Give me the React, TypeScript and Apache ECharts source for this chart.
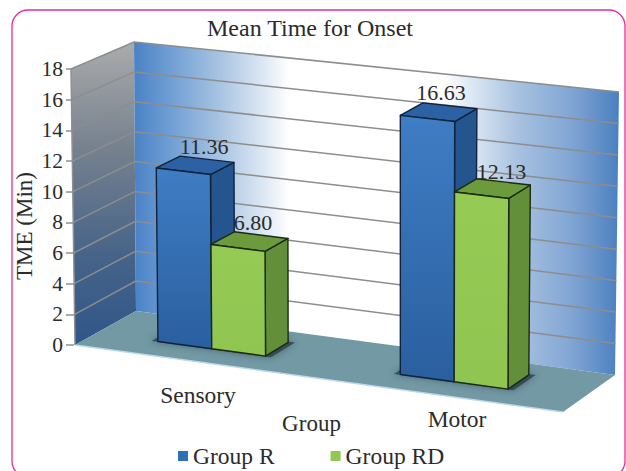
import React, { useEffect, useRef } from "react";
import * as echarts from "echarts";

const titleText = "Mean Time for Onset";
const categories = ["Sensory", "Motor"];
const groupNames = ["Group R", "Group RD"];
const groupR = [11.36, 16.63];
const groupRD = [6.8, 12.13];
const yMin = 0;
const yMax = 18;
const yStep = 2;
const yTicks = [0, 2, 4, 6, 8, 10, 12, 14, 16, 18];
const valueLabels = [
  ["11.36", "16.63"],
  ["6.80", "12.13"],
];

const FONT = "'Liberation Serif', serif";
const INK = "#2b2b2b";

// Corners of the floor, in order: front left, front right, back left, back right
const FX = [75, 563, 136, 615];
const FY = [345, 412, 311, 375];
const HS = [1, 1.034, 0.9746, 1.0254]; // vertical scale at the corners
const SL = [-0.0144, 0.0029, -0.0072, 0.0144]; // lean of the verticals at the corners

const GRID = { left: 74, top: 69, width: 489, height: 276 };

const bil = (c: number[], u: number, d: number) =>
  (1 - d) * ((1 - u) * c[0] + u * c[1]) + d * ((1 - u) * c[2] + u * c[3]);

// u across the floor, d into the depth, h = height in axis pixels above the baseline
const project = (u: number, d: number, h: number): [number, number] => {
  const hh = h * bil(HS, u, d);
  return [bil(FX, u, d) + h * bil(SL, u, d), bil(FY, u, d) - hh];
};

const toU = (px: number) => (px - GRID.left) / GRID.width;

const BAR_W = 0.111;
const GROUP_SHIFT = -0.012;
const D0 = 0.35;
const D1 = 0.74;
const LABEL_NUDGE = [
  [[-3, -21], [-9, -21]],
  [[-8, -21], [-2, -18]],
];
const CAT_POS = [
  [198, 395],
  [457, 419],
];

const FACE = [
  {
    front: ["#3f7dc4", "#2a5f9f"],
    side: "#24558f",
    top: "#2c62a3",
    stroke: "#10233c",
  },
  {
    front: ["#95cb55", "#8fc550"],
    side: "#648f3a",
    top: "#6c9b3d",
    stroke: "#1b2a12",
  },
];

const wallsItem = (_p: any, api: any) => {
  const base = api.coord([0, 0])[1];
  const topH = base - api.coord([0, yMax])[1];
  const tick = api.value(1);
  const h = base - api.coord([0, tick])[1];
  const children: any[] = [];
  if (api.value(0) === 0) {
    children.push({
      type: "polygon",
      shape: { points: [project(0, 0, 0), project(0, 1, 0), project(0, 1, topH), project(0, 0, topH)] },
      style: {
        fill: new echarts.graphic.LinearGradient(0, 0, 0, 1, [
          { offset: 0, color: "#ababab" },
          { offset: 0.35, color: "#76818f" },
          { offset: 0.7, color: "#476488" },
          { offset: 1, color: "#2f5689" },
        ]),
      },
    });
    children.push({
      type: "polygon",
      shape: { points: [project(0, 1, 0), project(1, 1, 0), project(1, 1, topH), project(0, 1, topH)] },
      style: {
        fill: new echarts.graphic.LinearGradient(0, 0, 1, 0, [
          { offset: 0, color: "#4a82c6" },
          { offset: 0.074, color: "#6f9ed3" },
          { offset: 0.177, color: "#a8c4e2" },
          { offset: 0.28, color: "#e4edf7" },
          { offset: 0.32, color: "#ffffff" },
          { offset: 0.64, color: "#ffffff" },
          { offset: 0.69, color: "#e0eaf5" },
          { offset: 0.79, color: "#a8c2e0" },
          { offset: 0.9, color: "#82a6d4" },
          { offset: 1, color: "#4a80c0" },
        ]),
      },
    });
    children.push({
      type: "polygon",
      shape: { points: [project(0, 0, 0), project(1, 0, 0), project(1, 1, 0), project(0, 1, 0)] },
      style: { fill: "#7299a4" },
    });
    children.push({
      type: "line",
      shape: { x1: project(0, 0, 0)[0], y1: project(0, 0, 0)[1], x2: project(1, 0, 0)[0], y2: project(1, 0, 0)[1] },
      style: { stroke: "#bcd6ec", lineWidth: 1.5 },
    });
    children.push({
      type: "line",
      shape: { x1: project(0, 0, 0)[0], y1: project(0, 0, 0)[1], x2: project(0, 0, topH)[0], y2: project(0, 0, topH)[1] },
      style: { stroke: "#8f8f8f", lineWidth: 1.5 },
    });
  }
  if (tick > 0) {
    const a = project(0, 0, h);
    const b = project(0, 1, h);
    const c = project(1, 1, h);
    children.push({
      type: "polyline",
      shape: { points: [a, b, c] },
      style: { stroke: "#8d8d8d", lineWidth: 1.5, fill: "none" },
    });
  }
  return { type: "group", children };
};

const shadowItem = (_p: any, api: any) => {
  const c = api.coord([api.value(0), 0]);
  const u = toU(c[0]) + GROUP_SHIFT;
  return {
    type: "polygon",
    shape: {
      points: [
        project(u - BAR_W - 0.012, D0 - 0.01, 0),
        project(u + BAR_W + 0.012, D0 - 0.01, 0),
        project(u + BAR_W + 0.012, D1 + 0.02, 0),
        project(u - BAR_W - 0.012, D1 + 0.02, 0),
      ],
    },
    style: { fill: "rgba(40,60,70,0.75)", shadowBlur: 7, shadowColor: "rgba(40,60,70,0.8)" },
  };
};

const barItem = (si: number) => (_p: any, api: any) => {
  const cat = api.value(0);
  const c = api.coord([cat, api.value(1)]);
  const base = api.coord([cat, 0])[1];
  const h = base - c[1];
  const mid = toU(c[0]) + GROUP_SHIFT;
  const u0 = si === 0 ? mid - BAR_W : mid;
  const u1 = si === 0 ? mid : mid + BAR_W;
  const s = FACE[si];
  const stroke = { stroke: s.stroke, lineWidth: 1.4, lineJoin: "round" };
  const topCenter = project((u0 + u1) / 2, D1, h);
  const nudge = LABEL_NUDGE[si][cat];
  return {
    type: "group",
    children: [
      {
        type: "polygon",
        shape: { points: [project(u1, D0, 0), project(u1, D1, 0), project(u1, D1, h), project(u1, D0, h)] },
        style: { fill: s.side, ...stroke },
      },
      {
        type: "polygon",
        shape: { points: [project(u0, D0, h), project(u1, D0, h), project(u1, D1, h), project(u0, D1, h)] },
        style: { fill: s.top, ...stroke },
      },
      {
        type: "polygon",
        shape: { points: [project(u0, D0, 0), project(u1, D0, 0), project(u1, D0, h), project(u0, D0, h)] },
        style: {
          fill: new echarts.graphic.LinearGradient(0, 0, 0, 1, [
            { offset: 0, color: s.front[0] },
            { offset: 1, color: s.front[1] },
          ]),
          ...stroke,
        },
      },
      {
        type: "text",
        x: topCenter[0] + nudge[0],
        y: topCenter[1] + nudge[1] + 8,
        style: {
          text: valueLabels[si][cat],
          font: `22px ${FONT}`,
          fill: INK,
          align: "center",
          verticalAlign: "middle",
        },
      },
    ],
  };
};

const catLabelItem = (_p: any, api: any) => {
  const i = api.value(0);
  return {
    type: "text",
    x: CAT_POS[i][0],
    y: CAT_POS[i][1],
    style: {
      text: categories[i],
      font: `23.5px ${FONT}`,
      fill: INK,
      align: "center",
      verticalAlign: "middle",
    },
  };
};

export default function App() {
  const ref = useRef<HTMLDivElement>(null);
  useEffect(() => {
    document.body.style.margin = "0";
    const chart = echarts.init(ref.current!, undefined, { renderer: "svg" });
    chart.setOption({
      animation: false,
      backgroundColor: "#ffffff",
      title: {
        text: titleText,
        left: 202,
        top: 11,
        textStyle: { fontFamily: FONT, fontWeight: "normal", fontSize: 24, color: INK },
      },
      legend: {
        data: groupNames,
        left: 173,
        top: 439,
        itemWidth: 10,
        itemHeight: 10,
        itemGap: 56,
        icon: "rect",
        textStyle: { fontFamily: FONT, fontSize: 23.5, color: INK },
      },
      grid: GRID,
      xAxis: {
        type: "category",
        data: categories,
        name: "Group",
        nameLocation: "middle",
        nameGap: 67,
        nameTextStyle: { fontFamily: FONT, fontSize: 23, color: INK, padding: [0, 14, 0, 0] },
        axisLine: { show: false },
        axisTick: { show: false },
        axisLabel: { show: false },
      },
      yAxis: {
        type: "value",
        min: yMin,
        max: yMax,
        interval: yStep,
        name: "TME (Min)",
        nameLocation: "middle",
        nameGap: 38,
        nameMoveOverlap: false,
        nameTextStyle: { fontFamily: FONT, fontSize: 23, color: INK, padding: [0, 38, 0, 0] },
        axisLine: { show: false },
        axisTick: { show: true, length: 8, lineStyle: { color: "#8f8f8f", width: 1.5 } },
        axisLabel: { fontFamily: FONT, fontSize: 21.5, color: INK, margin: 11 },
        splitLine: { show: false },
      },
      graphic: [
        {
          type: "rect",
          silent: true,
          z: -1,
          shape: { x: 12, y: 10, width: 613, height: 467, r: 16 },
          style: { fill: "none", stroke: "#ea2a9c", lineWidth: 1.3 },
        },
      ],
      series: [
        {
          type: "custom",
          name: "walls",
          silent: true,
          z: 1,
          data: yTicks.map((t, i) => [i, t]),
          encode: { x: 0, y: 1 },
          renderItem: wallsItem,
        },
        {
          type: "custom",
          name: "shadow",
          silent: true,
          z: 2,
          data: categories.map((_, i) => [i, 0]),
          encode: { x: 0, y: 1 },
          renderItem: shadowItem,
        },
        {
          type: "custom",
          name: groupNames[0],
          silent: true,
          z: 3,
          itemStyle: { color: "#2f6fb7" },
          data: groupR.map((v, i) => [i, v]),
          encode: { x: 0, y: 1 },
          renderItem: barItem(0),
        },
        {
          type: "custom",
          name: groupNames[1],
          silent: true,
          z: 4,
          itemStyle: { color: "#92c850" },
          data: groupRD.map((v, i) => [i, v]),
          encode: { x: 0, y: 1 },
          renderItem: barItem(1),
        },
        {
          type: "custom",
          name: "categories",
          silent: true,
          z: 5,
          data: categories.map((_, i) => [i, 0]),
          encode: { x: 0, y: 1 },
          renderItem: catLabelItem,
        },
      ],
    });
    return () => chart.dispose();
  }, []);
  return <div ref={ref} style={{ width: 626, height: 471 }} />;
}
